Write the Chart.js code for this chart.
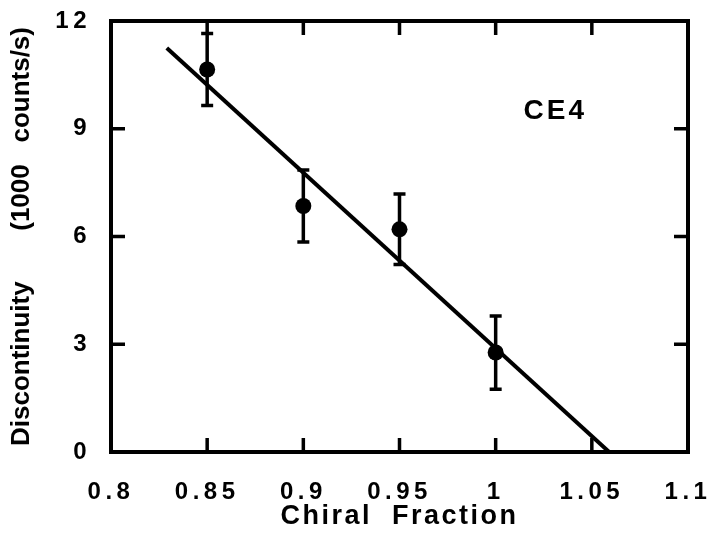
<!DOCTYPE html>
<html><head><meta charset="utf-8">
<script src="https://cdn.jsdelivr.net/npm/chart.js@4"></script>
<style>html,body{margin:0;padding:0;background:#fff}#wrap{width:713px;height:542px;position:relative}</style>
</head><body><div id="wrap"><canvas id="c"></canvas></div>
<script>
// ---- data ----
const chiralFraction = [0.85, 0.90, 0.95, 1.00];
const discontinuity  = [10.65, 6.85, 6.2, 2.77];
const errorHalf      = [1.0, 1.0, 0.98, 1.02];
const fitX = [0.829, 1.059];
const fitY = [11.25, 0];
const xTickValues = [0.8, 0.85, 0.9, 0.95, 1, 1.05, 1.1];
const xTickLabels = ['0.8', '0.85', '0.9', '0.95', '1', '1.05', '1.1'];
const yTickValues = [0, 3, 6, 9, 12];
const yTickLabels = ['0', '3', '6', '9', '12'];
const xTitle = 'Chiral  Fraction';
const yTitle = 'Discontinuity       (1000   counts/s)';
const panelLabel = 'CE4';
const panelLabelAt = [1.031, 9.5];

const FONT = "'Liberation Sans', Arial, Helvetica, sans-serif";

function wrapTitle(s, spacing) {
  if (s._wrappedTitle) return;
  const orig = s.drawTitle.bind(s);
  s.drawTitle = function () {
    const ctx = s.ctx; ctx.save(); ctx.letterSpacing = spacing; orig(); ctx.restore();
  };
  s._wrappedTitle = true;
}

const framePlugin = {
  id: 'frame',
  beforeDraw(chart) { chart.ctx.letterSpacing = '4.5px'; },
  afterDatasetsDraw(chart) {
    const ctx = chart.ctx, xs = chart.scales.x, ys = chart.scales.y;
    const a = chart.chartArea;
    ctx.save();
    ctx.strokeStyle = '#000';
    ctx.lineCap = 'butt';
    // error bars
    ctx.lineWidth = 3.5;
    const cap = 6;
    for (let i = 0; i < chiralFraction.length; i++) {
      const px = xs.getPixelForValue(chiralFraction[i]);
      const t = ys.getPixelForValue(discontinuity[i] + errorHalf[i]);
      const b = ys.getPixelForValue(discontinuity[i] - errorHalf[i]);
      ctx.beginPath();
      ctx.moveTo(px, t); ctx.lineTo(px, b);
      ctx.moveTo(px - cap, t); ctx.lineTo(px + cap, t);
      ctx.moveTo(px - cap, b); ctx.lineTo(px + cap, b);
      ctx.stroke();
    }
    // frame
    ctx.lineWidth = 4;
    ctx.strokeRect(a.left, a.top, a.right - a.left, a.bottom - a.top);
    // inward ticks on all sides
    ctx.lineWidth = 3.5;
    const tl = 14;
    ctx.beginPath();
    xTickValues.forEach(v => {
      if (v === xs.min || v === xs.max) return;
      const px = xs.getPixelForValue(v);
      ctx.moveTo(px, a.bottom); ctx.lineTo(px, a.bottom - tl);
      ctx.moveTo(px, a.top); ctx.lineTo(px, a.top + tl);
    });
    yTickValues.forEach(v => {
      if (v === ys.min || v === ys.max) return;
      const py = ys.getPixelForValue(v);
      ctx.moveTo(a.left, py); ctx.lineTo(a.left + tl, py);
      ctx.moveTo(a.right, py); ctx.lineTo(a.right - tl, py);
    });
    ctx.stroke();
    // panel label
    ctx.fillStyle = '#000';
    ctx.font = "bold 28px " + FONT;
    ctx.letterSpacing = '3px';
    ctx.textAlign = 'center';
    ctx.textBaseline = 'middle';
    ctx.fillText(panelLabel, xs.getPixelForValue(panelLabelAt[0]), ys.getPixelForValue(panelLabelAt[1]));
    ctx.restore();
  }
};

new Chart(document.getElementById('c'), {
  data: {
    datasets: [
      {
        type: 'line',
        data: fitX.map((x, i) => ({ x, y: fitY[i] })),
        borderColor: '#000', borderWidth: 4, pointRadius: 0, fill: false, tension: 0
      },
      {
        type: 'scatter',
        data: chiralFraction.map((x, i) => ({ x, y: discontinuity[i] })),
        backgroundColor: '#000', borderColor: '#000', pointRadius: 8, pointBorderWidth: 0
      }
    ]
  },
  options: {
    responsive: true,
    maintainAspectRatio: false,
    animation: false,
    layout: { padding: { top: 21, right: 25, left: 0, bottom: 0 } },
    plugins: { legend: { display: false }, tooltip: { enabled: false } },
    scales: {
      x: {
        type: 'linear', min: 0.8, max: 1.1,
        afterBuildTicks: s => { s.ticks = xTickValues.map(v => ({ value: v })); },
        afterFit: s => { s.height = 90; s.paddingLeft = 0; s.paddingRight = 0; wrapTitle(s, '2.5px'); },
        grid: { display: false, drawTicks: false },
        border: { display: false },
        ticks: {
          autoSkip: false, maxRotation: 0, padding: 26, color: '#000',
          font: { family: FONT, size: 24, weight: 'bold' },
          callback: v => xTickLabels[xTickValues.indexOf(v)]
        },
        title: { display: true, text: xTitle, color: '#000',
          font: { family: FONT, size: 27, weight: 'bold' }, padding: { top: 0, bottom: 9 } }
      },
      y: {
        type: 'linear', min: 0, max: 12,
        afterBuildTicks: s => { s.ticks = yTickValues.map(v => ({ value: v })); },
        afterFit: s => { s.width = 111; s.paddingTop = 0; s.paddingBottom = 0; wrapTitle(s, '0px'); },
        grid: { display: false, drawTicks: false },
        border: { display: false },
        ticks: {
          autoSkip: false, padding: 20, color: '#000',
          font: { family: FONT, size: 24, weight: 'bold' },
          callback: v => yTickLabels[yTickValues.indexOf(v)]
        },
        title: { display: true, text: yTitle, color: '#000',
          font: { family: FONT, size: 26, weight: 'bold' }, padding: { top: 6, bottom: 0 } }
      }
    }
  },
  plugins: [framePlugin]
});
</script>
</body></html>
